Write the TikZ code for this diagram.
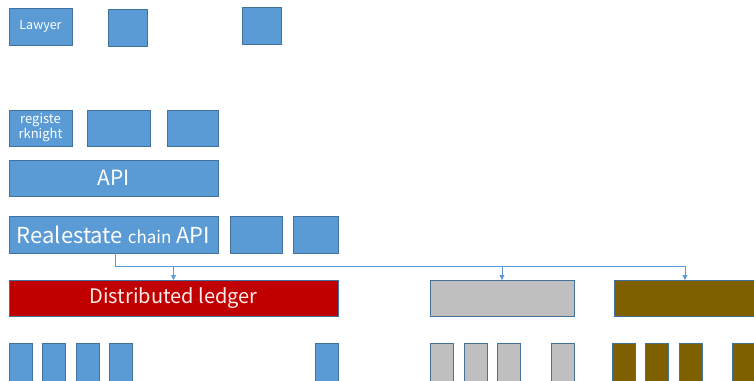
\documentclass[tikz,border=0pt]{standalone}
\usepackage{fontspec}
\setmainfont{Noto Sans CJK JP}
\usetikzlibrary{arrows.meta}
\definecolor{boxBlue}{RGB}{91,155,213}
\definecolor{edgeBlue}{RGB}{65,113,156}
\definecolor{ledgerRed}{RGB}{192,0,0}
\definecolor{chainGray}{RGB}{191,191,191}
\definecolor{chainOlive}{RGB}{127,96,0}
\tikzset{
  blk/.style={draw=edgeBlue,fill=boxBlue,line width=0.8pt,text=white,inner sep=0pt,outer sep=0pt,anchor=north west},
  graybox/.style={blk,fill=chainGray},
  olivebox/.style={blk,fill=chainOlive},
  redbox/.style={blk,fill=ledgerRed,draw=edgeBlue},
  conn/.style={draw=boxBlue,line width=0.8pt,-{Triangle[length=5pt,width=5pt]}}
}

\begin{document}
\begin{tikzpicture}[x=1pt,y=-1pt]
    \useasboundingbox (0,0) rectangle (754,380);

    % top row
    \node[blk,minimum width=63pt,minimum height=37pt,font=\fontsize{12.5}{14}\selectfont] (lawyer) at (9,8) {Lawyer};
    \node[blk,minimum width=39pt,minimum height=37pt] (top2) at (108,9) {};
    \node[blk,minimum width=39pt,minimum height=37pt] (top3) at (242,7) {};

    % client row
    \node[blk,minimum width=63pt,minimum height=36pt,align=center,font=\fontsize{13}{15}\selectfont] (regknight) at (9,110) {registe\\rknight};
    \node[blk,minimum width=63pt,minimum height=36pt] (client2) at (87,110) {};
    \node[blk,minimum width=51pt,minimum height=36pt] (client3) at (167,110) {};

    \node[blk,minimum width=209pt,minimum height=36pt,font=\fontsize{21}{24}\selectfont] (api) at (9,160) {API};

    \node[blk,minimum width=209pt,minimum height=37pt,font=\fontsize{22}{25}\selectfont] (rca) at (9,216) {Realestate {\fontsize{17}{20}\selectfont chain} API};
    \node[blk,minimum width=52pt,minimum height=37pt] (rca2) at (230,216) {};
    \node[blk,minimum width=45pt,minimum height=37pt] (rca3) at (293,216) {};

    % ledgers
    \node[redbox,minimum width=329pt,minimum height=36pt,font=\fontsize{20}{23}\selectfont,text=white!92!red] (ledger) at (9,280) {Distributed ledger};
    \node[graybox,minimum width=144pt,minimum height=36pt] (ledger2) at (430,280) {};
    \node[olivebox,minimum width=142pt,minimum height=36pt] (ledger3) at (614,280) {};

    \coordinate (split) at (115,266);
    \draw[conn] (rca.south -| split) -- (split) -| (ledger.north);
    \draw[conn] (split) -| (ledger2.north);
    \draw[conn] (split) -| (ledger3.north);

    % nodes under each ledger
    \foreach \x [count=\i] in {9,42,76,109,315}
      \node[blk,minimum width=23pt,minimum height=45pt] (peer\i) at (\x,343) {};
    \foreach \x [count=\i] in {430,464,497,551}
      \node[graybox,minimum width=23pt,minimum height=45pt] (gpeer\i) at (\x,343) {};
    \foreach \x [count=\i] in {612,645,679,732}
      \node[olivebox,minimum width=23pt,minimum height=45pt] (opeer\i) at (\x,343) {};
\end{tikzpicture}
\end{document}
